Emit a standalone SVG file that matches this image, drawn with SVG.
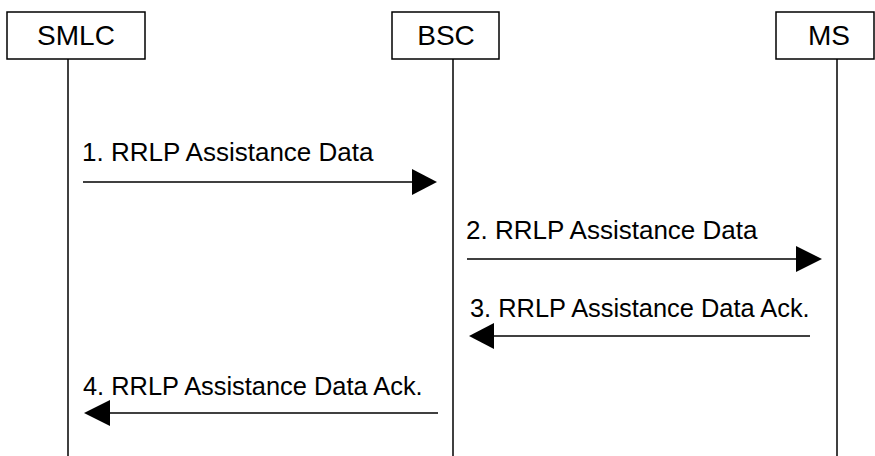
<svg xmlns="http://www.w3.org/2000/svg" width="875" height="456" viewBox="0 0 875 456">
<style>
.box{fill:#fff;stroke:#000;stroke-width:1.5}
.life{stroke:#000;stroke-width:1.5}
.msg{stroke:#000;stroke-width:1.5;fill:none}
.head{fill:#000}
text{font-family:"Liberation Sans",Arial,sans-serif;font-size:26px;fill:#000}
.t{font-size:28px;text-anchor:middle}
.a{font-size:25.4px}
</style>
<rect width="875" height="456" fill="#fff"/>
<g id="lifelines">
<line class="life" x1="68" y1="59" x2="68" y2="456"/>
<line class="life" x1="453" y1="59" x2="453" y2="456"/>
<line class="life" x1="837" y1="59" x2="837" y2="456"/>
</g>
<g id="SMLC">
<rect class="box" x="7" y="12" width="138" height="47"/>
<text class="t" x="76" y="45">SMLC</text>
</g>
<g id="BSC">
<rect class="box" x="392" y="12" width="107" height="47"/>
<text class="t" x="446" y="45">BSC</text>
</g>
<g id="MS">
<rect class="box" x="776" y="12" width="98" height="47"/>
<text class="t" x="829" y="45">MS</text>
</g>
<g id="connectors">
<line class="msg" x1="83" y1="182" x2="414" y2="182"/>
<polygon class="head" points="412,169 437,182 412,195"/>
<text x="82" y="161">1. RRLP Assistance Data</text>
<line class="msg" x1="467" y1="259" x2="798" y2="259"/>
<polygon class="head" points="796,246 822,259 796,272"/>
<text x="466" y="239">2. RRLP Assistance Data</text>
<line class="msg" x1="810" y1="336" x2="492" y2="336"/>
<polygon class="head" points="494,323 469,336 494,349"/>
<text class="a" x="470" y="317">3. RRLP Assistance Data Ack.</text>
<line class="msg" x1="438" y1="413" x2="108" y2="413"/>
<polygon class="head" points="110,400 84,413 110,426"/>
<text class="a" x="83" y="395">4. RRLP Assistance Data Ack.</text>
</g>
</svg>
